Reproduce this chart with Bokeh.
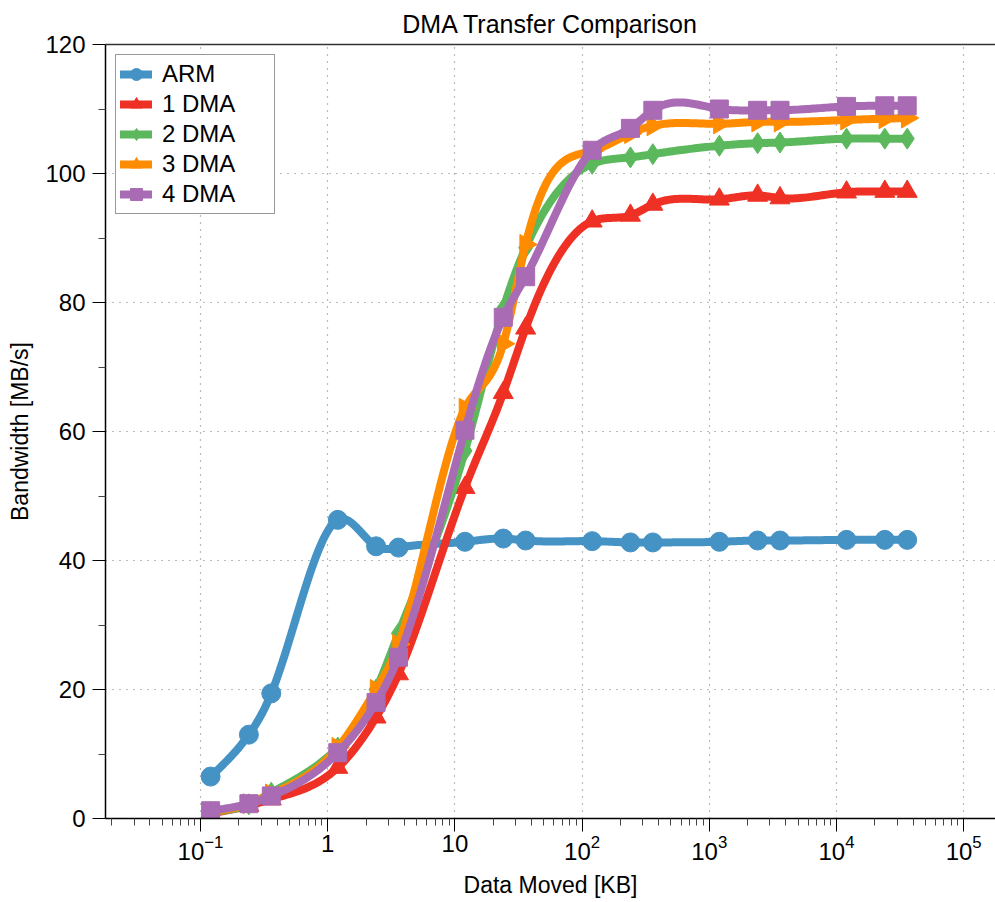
import numpy as np
from bokeh.plotting import figure
from bokeh.models import FixedTicker, LogTickFormatter, LinearAxis
from bokeh.embed import file_html
from bokeh.resources import INLINE

# ---- data ----
sizes_kb = [0.12, 0.24, 0.36, 1.2, 2.4, 3.6, 12, 24, 36, 120, 240, 360,
            1200, 2400, 3600, 12000, 24000, 36000]
arm = [6.5, 13.0, 19.4, 46.3, 42.2, 42.0, 42.9, 43.4, 43.1, 43.0, 42.8, 42.8,
       42.9, 43.1, 43.1, 43.2, 43.2, 43.2]
dma1 = [0.8, 2.0, 3.0, 7.9, 15.7, 22.4, 51.3, 66.0, 76.0, 92.6, 93.5, 95.2,
        96.0, 96.6, 96.2, 97.1, 97.2, 97.2]
dma2 = [1.0, 2.2, 4.0, 11.0, 20.0, 28.7, 57.0, 79.0, 88.5, 101.5, 102.5, 103.0,
        104.3, 104.7, 104.8, 105.4, 105.4, 105.4]
dma3 = [1.0, 2.3, 3.8, 11.0, 20.0, 27.0, 63.6, 73.6, 89.0, 103.5, 106.2, 107.4,
        107.7, 108.0, 108.0, 108.3, 108.5, 108.6]
dma4 = [1.2, 2.3, 3.5, 10.2, 18.0, 25.0, 60.2, 77.7, 84.0, 103.6, 107.0, 109.8,
        110.0, 109.8, 109.8, 110.4, 110.5, 110.5]

series_names = ["ARM", "1 DMA", "2 DMA", "3 DMA", "4 DMA"]
series_vals = [arm, dma1, dma2, dma3, dma4]

x_major_ticks = [0.1, 1, 10, 100, 1000, 10000, 100000]
y_major_ticks = [0, 20, 40, 60, 80, 100, 120]

colors = ["#4592C5", "#EE3124", "#5CB85C", "#FF8C00", "#A96BB4"]
markers = ["circle", "triangle", "diamond", "triangle", "square"]
angles = [0, 0, 0, -np.pi / 2, 0]
msizes = [19, 20, 21, 20, 18]


def natural_spline(xs, ys, n=30):
    """Smooth curve through the points (natural cubic spline in log-x)."""
    t = np.log10(np.asarray(xs, dtype=float))
    y = np.asarray(ys, dtype=float)
    N = len(t)
    h = np.diff(t)
    A = np.zeros((N, N))
    b = np.zeros(N)
    A[0, 0] = 1
    A[-1, -1] = 1
    for i in range(1, N - 1):
        A[i, i - 1] = h[i - 1]
        A[i, i] = 2 * (h[i - 1] + h[i])
        A[i, i + 1] = h[i]
        b[i] = 3 * ((y[i + 1] - y[i]) / h[i] - (y[i] - y[i - 1]) / h[i - 1])
    c = np.linalg.solve(A, b)
    bb = (y[1:] - y[:-1]) / h - h * (2 * c[:-1] + c[1:]) / 3
    d = (c[1:] - c[:-1]) / (3 * h)
    out_t, out_y = [], []
    for i in range(N - 1):
        dt = np.linspace(0, h[i], n, endpoint=(i == N - 2))
        out_t.extend(t[i] + dt)
        out_y.extend(y[i] + bb[i] * dt + c[i] * dt ** 2 + d[i] * dt ** 3)
    return (10 ** np.array(out_t)).tolist(), out_y


FONT = "Liberation Sans"

p = figure(width=995, height=902, x_axis_type="log",
           x_range=(0.0179, 1.78e5), y_range=(0, 120),
           output_backend="svg", toolbar_location=None,
           min_border_left=105, min_border_right=0,
           min_border_top=44, min_border_bottom=84,
           title="DMA Transfer Comparison")

p.title.align = "center"
p.title.text_font = FONT
p.title.text_font_size = "25px"
p.title.text_font_style = "normal"
p.title.text_color = "black"
p.title.standoff = 13

minor_x = [k * 10.0 ** e for e in range(-2, 6) for k in range(2, 10)]
p.xaxis.ticker = FixedTicker(ticks=x_major_ticks, minor_ticks=minor_x)
p.yaxis.ticker = FixedTicker(ticks=y_major_ticks,
                             minor_ticks=[v + 10 for v in y_major_ticks[:-1]])

p.xaxis.formatter = LogTickFormatter()
p.xaxis.major_label_overrides = {1: "1", 10: "10"}

for ax in (p.xaxis[0], p.yaxis[0]):
    ax.major_label_text_font = FONT
    ax.major_label_text_font_size = "24px"
    ax.major_label_text_color = "black"
    ax.axis_label_text_font = FONT
    ax.axis_label_text_font_size = "23px"
    ax.axis_label_text_font_style = "normal"
    ax.axis_label_text_color = "black"
    ax.axis_line_color = "black"
    ax.axis_line_width = 1.5
    ax.major_tick_line_color = "black"
    ax.minor_tick_line_color = "#444444"
    ax.major_tick_in = 0
    ax.major_tick_out = 13
    ax.minor_tick_in = 0
    ax.minor_tick_out = 7

p.xaxis.axis_label = "Data Moved [KB]"
p.yaxis.axis_label = "Bandwidth [MB/s]"
p.xaxis.major_label_standoff = 3
p.yaxis.major_label_standoff = 7
p.xaxis.axis_label_standoff = 9
p.yaxis.axis_label_standoff = 9

p.xgrid.grid_line_color = "#777777"
p.ygrid.grid_line_color = "#777777"
p.xgrid.grid_line_dash = "1 6"
p.ygrid.grid_line_dash = "1 6"
p.xgrid.grid_line_width = 1.2
p.ygrid.grid_line_width = 1.2

p.outline_line_color = None
# top border line
top_axis = LinearAxis(major_tick_line_color=None, minor_tick_line_color=None,
                      major_label_text_font_size="0px", axis_line_color="#333333",
                      axis_line_width=1.5)
top_axis.ticker = FixedTicker(ticks=[])
p.add_layout(top_axis, "above")

for name, vals, col, mk, ang, ms in zip(series_names, series_vals, colors,
                                        markers, angles, msizes):
    sx, sy = natural_spline(sizes_kb, vals)
    p.line(sx, sy, line_color=col, line_width=8, line_join="round",
           line_cap="round", legend_label=name)
    p.scatter(sizes_kb, vals, marker=mk, size=ms, angle=ang,
              fill_color=col, line_color=col, legend_label=name)

lg = p.legend[0]
lg.location = "top_left"
lg.margin = 10
lg.padding = 4
lg.spacing = 0
lg.glyph_width = 32
lg.glyph_height = 30
lg.label_height = 30
lg.label_width = 108
lg.label_standoff = 10
lg.label_text_font = FONT
lg.label_text_font_size = "24px"
lg.label_text_color = "black"
lg.border_line_color = "#333333"
lg.border_line_width = 1.5
lg.background_fill_alpha = 1.0

open("out.html", "w").write(file_html(p, INLINE))
